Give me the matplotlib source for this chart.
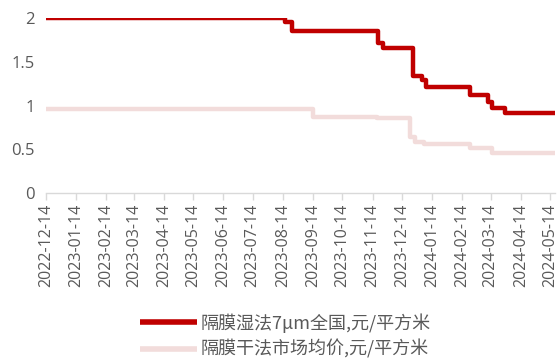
import matplotlib
matplotlib.use("Agg")
import matplotlib.pyplot as plt
import pandas as pd

plt.rcParams['font.family'] = ['Open Sans', 'Noto Sans CJK SC', 'DejaVu Sans']

# Data: change points (date, value), drawn as step lines
wet_dates = ['2022-12-14', '2023-08-16', '2023-08-23', '2023-11-19', '2023-11-25',
             '2023-12-25', '2024-01-04', '2024-01-08', '2024-02-22', '2024-03-11',
             '2024-03-15', '2024-03-29', '2024-05-19']
wet_values = [2.00, 1.95, 1.85, 1.72, 1.66, 1.34, 1.29, 1.21, 1.12, 1.04, 0.97, 0.91, 0.91]

dry_dates = ['2022-12-14', '2023-09-14', '2023-11-18', '2023-12-22', '2023-12-27',
             '2024-01-06', '2024-02-22', '2024-03-15', '2024-05-19']
dry_values = [0.96, 0.87, 0.86, 0.64, 0.58, 0.56, 0.51, 0.46, 0.46]

tick_labels = ['2022-12-14', '2023-01-14', '2023-02-14', '2023-03-14', '2023-04-14',
               '2023-05-14', '2023-06-14', '2023-07-14', '2023-08-14', '2023-09-14',
               '2023-10-14', '2023-11-14', '2023-12-14', '2024-01-14', '2024-02-14',
               '2024-03-14', '2024-04-14', '2024-05-14']

wet_label = '隔膜湿法7μm全国,元/平方米'
dry_label = '隔膜干法市场均价,元/平方米'

W, H = 559, 361
fig = plt.figure(figsize=(W / 100, H / 100), dpi=100)
ax = fig.add_axes([46 / W, 1 - 193 / H, (555 - 46) / W, (193 - 18) / H])

wd = pd.to_datetime(wet_dates)
dd = pd.to_datetime(dry_dates)
ax.plot(wd, wet_values, drawstyle='steps-post', color='#C00000', lw=3.2,
        solid_capstyle='butt', label=wet_label, zorder=3)
ax.plot(dd, dry_values, drawstyle='steps-post', color='#F2DCDB', lw=3.2,
        solid_capstyle='butt', label=dry_label, zorder=2)

ax.set_ylim(0, 2)
ax.set_yticks([0, 0.5, 1, 1.5, 2])
ax.set_yticklabels(['0', '0.5', '1', '1.5', '2'])
ax.set_xlim(pd.Timestamp('2022-12-14'), pd.Timestamp('2024-05-19'))
tdates = pd.to_datetime(tick_labels)
ax.set_xticks(tdates)
ax.set_xticklabels(tick_labels, rotation=90)

for s in ['top', 'right', 'left']:
    ax.spines[s].set_visible(False)
ax.spines['bottom'].set_color('#D9D9D9')
ax.spines['bottom'].set_linewidth(1.0)
ax.tick_params(axis='y', length=0, pad=8, labelsize=12, labelcolor='#595959')
ax.tick_params(axis='x', length=5, width=1.0, color='#D9D9D9', labelsize=11.5,
               labelcolor='#595959', pad=3)

leg = fig.legend(loc='center', bbox_to_anchor=(285 / W, 1 - 336 / H), frameon=False,
                 prop={'family': ['Noto Sans CJK SC', 'DejaVu Sans'], 'size': 13},
                 handlelength=3.2, handletextpad=0.15, labelspacing=0.4)
for t in leg.get_texts():
    t.set_color('#595959')
for l in leg.get_lines():
    l.set_linewidth(4)

fig.savefig('out.png', dpi=100)
